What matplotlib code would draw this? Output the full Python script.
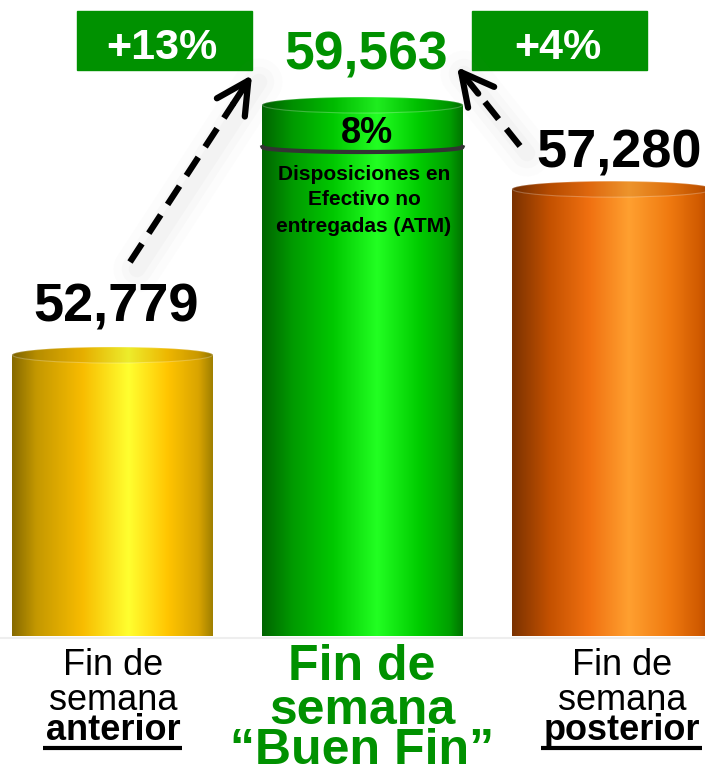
import numpy as np
import matplotlib.pyplot as plt
from matplotlib.colors import LinearSegmentedColormap
from matplotlib.patches import Polygon, Ellipse, Rectangle

# data
categories = ['Fin de semana anterior', 'Fin de semana “Buen Fin”', 'Fin de semana posterior']
values = [52779, 59563, 57280]
changes = ['+13%', '+4%']
atm_share = '8%'
atm_text = 'Disposiciones en\nEfectivo no\nentregadas (ATM)'

W, H = 705, 767
GREEN = '#009100'
SANS = ['Liberation Sans', 'DejaVu Sans']

fig = plt.figure(figsize=(W / 100, H / 100), dpi=100)
fig.patch.set_facecolor('white')

# bar axes, baseline sits 131 px above the bottom edge
ax = fig.add_axes([0, 131 / H, 1, 636 / H])
ymin, ymax = 45154, 62413
bw = 0.804
cap = 8 / (636 / (ymax - ymin))   # half height of the top ellipse, in data units

cyl_colors = [
    [(0, '#866a00'), (0.12, '#c49800'), (0.35, '#f8bc00'), (0.58, '#ffff30'),
     (0.78, '#ffc400'), (0.93, '#d9a400'), (1, '#a08000')],
    [(0, '#006400'), (0.15, '#009a00'), (0.35, '#00c800'), (0.57, '#22ff22'),
     (0.78, '#00cc00'), (0.93, '#00a000'), (1, '#007000')],
    [(0, '#7a3200'), (0.18, '#c25000'), (0.38, '#f07010'), (0.58, '#ffa030'),
     (0.78, '#f07a10'), (0.93, '#d05a00'), (1, '#a84400')],
]

for i, v in enumerate(values):
    cmap = LinearSegmentedColormap.from_list(f'cyl{i}', cyl_colors[i])
    x0, x1 = i - bw / 2, i + bw / 2
    t = np.linspace(0, np.pi, 80)
    arc = np.column_stack([i + bw / 2 * np.cos(t), v + cap * np.sin(t)])
    poly = np.vstack([[x0, ymin], [x1, ymin], arc])
    clip = Polygon(poly, closed=True, facecolor='none', edgecolor='none')
    ax.add_patch(clip)
    im = ax.imshow(np.linspace(0, 1, 256)[None, :], cmap=cmap, aspect='auto',
                   extent=(x0, x1, ymin, v + cap), interpolation='bilinear')
    im.set_clip_path(clip)
    # top face of the cylinder
    ax.add_patch(Ellipse((i, v), bw, 2 * cap, facecolor='black', alpha=0.07,
                         edgecolor='none'))
    ax.add_patch(Ellipse((i, v), bw * 0.995, 2 * cap, facecolor='none',
                         edgecolor='white', alpha=0.25, lw=0.8))

ax.set_xlim(-0.45, 2.37)
ax.set_ylim(ymin, ymax)
ax.axis('off')

# overlay in pixel coordinates for the annotations
ov = fig.add_axes([0, 0, 1, 1])
ov.set_xlim(0, W)
ov.set_ylim(H, 0)
ov.axis('off')

ov.plot([0, W], [638, 638], color='#eeeeee', lw=1.5)

# value labels
ov.text(116, 322, f'{values[0]:,}', ha='center', va='baseline', fontsize=39,
        fontweight='bold', family=SANS, color='black')
ov.text(366, 70, f'{values[1]:,}', ha='center', va='baseline', fontsize=38.5,
        fontweight='bold', family=SANS, color=GREEN)
ov.text(619, 167, f'{values[2]:,}', ha='center', va='baseline', fontsize=39,
        fontweight='bold', family=SANS, color='black')

# growth boxes
for (bx, tx), lab in zip([(77, 162), (472, 558)], changes):
    ov.add_patch(Rectangle((bx, 11), 175, 59, color=GREEN))
    ov.text(tx, 59, lab, ha='center', va='baseline', fontsize=31,
            fontweight='bold', family=SANS, color='white')

# dashed arrows with soft shadows
for tail, tip in [((130, 262), (252, 75)), ((520, 146), (457, 67))]:
    tail, tip = np.array(tail, float), np.array(tip, float)
    d = (tip - tail) / np.hypot(*(tip - tail))
    for w, a in [(34, 0.02), (22, 0.03), (12, 0.035)]:
        ov.plot([tail[0] + 7, tip[0] + 7], [tail[1] + 7, tip[1] + 7], color='gray',
                lw=w, alpha=a, solid_capstyle='round')
    back = tip - d * 34
    ov.plot([tail[0], back[0]], [tail[1], back[1]], color='black', lw=4.5,
            ls=(0, (3.5, 2)), dash_capstyle='butt')
    ov.annotate('', xy=tip, xytext=back,
                arrowprops=dict(arrowstyle='->,head_length=1.15,head_width=0.6',
                                lw=4.5, color='black', mutation_scale=20,
                                shrinkA=0, shrinkB=0, capstyle='round'))

# ATM share inside the middle cylinder
t = np.linspace(0, np.pi, 80)
ov.plot(362.5 + 100 * np.cos(t), 147 + 5 * np.sin(t), color='#333333', lw=3)
ov.text(367, 143, atm_share, ha='center', va='baseline', fontsize=26,
        fontweight='bold', family=SANS)
for line, yb in zip(atm_text.split('\n'), [180, 205, 232]):
    ov.text(364, yb, line, ha='center', va='baseline', fontsize=15,
            fontweight='bold', family=SANS)

# category labels
for i, c in enumerate(categories):
    w = c.split(' ', 3)
    lines = [' '.join(w[:2]), w[2], w[3]]
    if i == 1:
        for line, yb in zip(lines, [680, 724, 764]):
            ov.text(362, yb, line, ha='center', va='baseline', fontsize=36,
                    fontweight='bold', family=SANS, color=GREEN)
    else:
        cx = [113, None, 622][i]
        ov.text(cx, 675, lines[0], ha='center', va='baseline', fontsize=26, family=SANS)
        ov.text(cx, 710, lines[1], ha='center', va='baseline', fontsize=26, family=SANS)
        ov.text(cx, 740, lines[2], ha='center', va='baseline', fontsize=26,
                fontweight='bold', family=SANS)
        ux = [(43, 182), None, (541, 702)][i]
        ov.plot(ux, [748, 748], color='black', lw=3, solid_capstyle='butt')

fig.savefig('out.png', dpi=100, facecolor='white')
